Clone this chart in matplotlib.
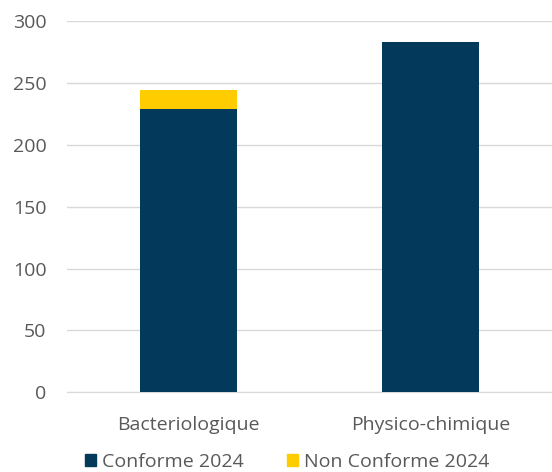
import matplotlib
matplotlib.use("Agg")
import matplotlib.pyplot as plt
from matplotlib.patches import Patch

categories = ["Bacteriologique", "Physico-chimique"]
conforme = [229, 283]
non_conforme = [15, 0]
yticks = [0, 50, 100, 150, 200, 250, 300]

navy = "#033A5C"
yellow = "#FFCC00"
grey_text = "#595959"

plt.rcParams["font.family"] = ["Open Sans", "DejaVu Sans"]

fig = plt.figure(figsize=(5.52, 4.72), dpi=100)
ax = fig.add_axes([0.122, 0.1689, 0.878, 0.7866])

x = range(len(categories))
ax.bar(x, conforme, width=0.4, color=navy, label="Conforme 2024", zorder=3)
ax.bar(x, non_conforme, width=0.4, bottom=conforme, color=yellow,
       label="Non Conforme 2024", zorder=3)

ax.set_xlim(-0.5, 1.5)
ax.set_ylim(0, 300)
ax.set_yticks(yticks)
ax.set_xticks(list(x))
ax.set_xticklabels(categories)
ax.grid(axis="y", color="#D9D9D9", linewidth=1, zorder=0)
for s in ["top", "right", "left"]:
    ax.spines[s].set_visible(False)
ax.spines["bottom"].set_color("#D9D9D9")
ax.tick_params(axis="both", length=0, labelsize=14, colors=grey_text)
ax.tick_params(axis="x", pad=17)
ax.tick_params(axis="y", pad=15)

handles = [Patch(color=navy, label="Conforme 2024"),
           Patch(color=yellow, label="Non Conforme 2024")]
fig.legend(handles=handles, loc="lower center", bbox_to_anchor=(0.52, -0.035),
           ncol=2, frameon=False, fontsize=14, handlelength=0.6,
           handleheight=0.6, handletextpad=0.3, columnspacing=2.2,
           labelcolor=grey_text)

fig.savefig("out.png", dpi=100)
